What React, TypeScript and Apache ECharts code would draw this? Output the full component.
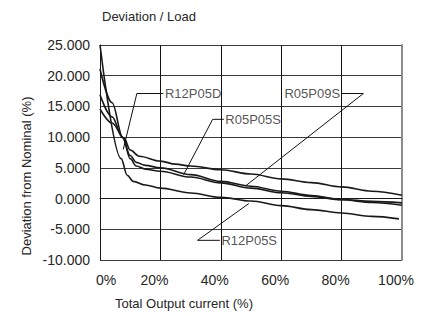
import React, { useEffect, useRef } from "react";
import * as echarts from "echarts";

const FONT = "'Liberation Sans', Arial, sans-serif";
const TXT = "#262626";

// X positions (% of total output current)
const xR12P05S = [0, 7, 9, 11, 15, 20, 30, 40, 50, 60, 70, 80, 90, 99];
const yR12P05S = [25, 6.5, 3.8, 2.8, 2.2, 1.7, 0.9, 0.2, -0.4, -1.15, -1.8, -2.35, -2.9, -3.3];

const xR12P05D = [0, 4, 8, 10, 13, 20, 25, 30, 40, 50, 60, 70, 80, 90, 100];
const yR12P05D = [14.6, 12.3, 9.8, 7.9, 6.9, 6.1, 5.6, 5.3, 4.7, 4.0, 3.2, 2.6, 1.9, 1.2, 0.55];

const xR05P05S = [0, 4, 7.5, 10, 12, 15, 20, 30, 40, 50, 60, 70, 80, 90, 100];
const yR05P05S = [16.9, 13.3, 9.9, 7.0, 5.9, 5.4, 5.0, 3.9, 2.8, 2.0, 1.2, 0.5, -0.15, -0.45, -0.7];

const xR05P09S = [0, 4, 7.5, 10, 12, 15, 20, 30, 40, 50, 60, 70, 80, 90, 100];
const yR05P09S = [21.1, 15.6, 10.0, 6.5, 5.3, 4.8, 4.45, 3.5, 2.55, 1.7, 0.95, 0.35, -0.2, -0.65, -1.1];

// Axis ticks
const xTicks = [0, 20, 40, 60, 80, 100];
const yMin = -10;
const yMax = 25;
const yStep = 5;

// Leader annotations (data coordinates): target on curve, elbow, text anchor
const leaderNames = ["R12P05D", "R05P05S", "R05P09S", "R12P05S"];
const leaderTargets = [[7.7, 8.0], [27.7, 3.9], [48.3, 2.1], [49.3, -0.8]];
const leaderElbows = [[12.2, 17.1], [37.3, 12.9], [87.2, 17.1], [32.3, -6.8]];
const leaderEnds = [[21, 17.1], [41, 12.9], [80, 17.1], [39.7, -6.8]];
const leaderSides = ["right", "right", "left", "right"];

const curveNames = ["R12P05S", "R12P05D", "R05P05S", "R05P09S"];
const curveX = [xR12P05S, xR12P05D, xR05P05S, xR05P09S];
const curveY = [yR12P05S, yR12P05D, yR05P05S, yR05P09S];

export default function App() {
  const ref = useRef<HTMLDivElement>(null);
  useEffect(() => {
    if (!ref.current) return;
    const chart = echarts.init(ref.current, undefined, { renderer: "svg" });

    const curveSeries = curveNames.map((n, i) => ({
      name: n,
      type: "line",
      data: curveX[i].map((x, j) => [x, curveY[i][j]]),
      smooth: 0.35,
      smoothMonotone: "x",
      symbol: "none",
      lineStyle: { color: "#1a1a1a", width: 1.6 },
      silent: true,
      z: 3,
    }));

    const leaderSeries = leaderNames.map((n, i) => ({
      name: "leader-" + n,
      type: "line",
      data: [leaderTargets[i], leaderElbows[i], leaderEnds[i]],
      symbol: "none",
      lineStyle: { color: "#111", width: 1 },
      silent: true,
      z: 4,
    }));

    const labelSeries = leaderNames.map((n, i) => ({
      name: "label-" + n,
      type: "scatter",
      data: [leaderEnds[i]],
      symbolSize: 1,
      itemStyle: { color: "rgba(0,0,0,0)" },
      silent: true,
      z: 5,
      label: {
        show: true,
        position: leaderSides[i],
        distance: 1,
        formatter: n,
        color: TXT,
        fontSize: 13,
        fontFamily: FONT,
      },
    }));

    chart.setOption({
      animation: false,
      backgroundColor: "#fff",
      grid: { left: 100, right: 28, top: 45, bottom: 56, containLabel: false },
      xAxis: {
        type: "value",
        min: xTicks[0],
        max: xTicks[xTicks.length - 1],
        interval: 20,
        axisLine: { show: true, lineStyle: { color: "#1a1a1a", width: 1 } },
        axisTick: { show: false },
        splitLine: { show: true, lineStyle: { color: "#111", width: 1 } },
        axisLabel: {
          margin: 13,
          color: TXT,
          fontSize: 14,
          fontFamily: FONT,
          formatter: (v: number) => (v === 0 ? "{a|0%}" : "{b|" + v + "%}"),
          rich: {
            a: { padding: [0, 0, 0, 12], fontSize: 14, fontFamily: FONT, color: TXT },
            b: { padding: [0, 12, 0, 0], fontSize: 14, fontFamily: FONT, color: TXT },
          },
        },
      },
      yAxis: [
        {
          type: "value",
          min: yMin,
          max: yMax,
          interval: yStep,
          axisLine: { show: true, lineStyle: { color: "#1a1a1a", width: 1 } },
          axisTick: { show: false },
          splitLine: { show: true, lineStyle: { color: "#3a3a3a", width: 1 } },
          axisLabel: {
            margin: 10,
            color: TXT,
            fontSize: 14,
            fontFamily: FONT,
            formatter: (v: number) => v.toFixed(3),
          },
        },
        {
          type: "value",
          min: yMin,
          max: yMax,
          interval: yStep,
          position: "right",
          axisLine: { show: true, lineStyle: { color: "#8c8c8c", width: 2 } },
          axisTick: { show: false },
          axisLabel: { show: false },
          splitLine: { show: false },
        },
      ],
      graphic: [
        {
          type: "text",
          x: 102,
          y: 16,
          style: {
            text: "Deviation / Load",
            fill: TXT,
            font: "13px " + FONT,
            align: "left",
            verticalAlign: "middle",
            textAlign: "left",
            textVerticalAlign: "middle",
          },
        },
        {
          type: "text",
          x: 184,
          y: 303,
          style: {
            text: "Total Output current (%)",
            fill: TXT,
            font: "13px " + FONT,
            align: "center",
            verticalAlign: "middle",
            textAlign: "center",
            textVerticalAlign: "middle",
          },
        },
        {
          type: "text",
          x: 26,
          y: 176,
          rotation: Math.PI / 2,
          style: {
            text: "Deviation from Nominal (%)",
            fill: TXT,
            font: "13px " + FONT,
            align: "center",
            verticalAlign: "middle",
            textAlign: "center",
            textVerticalAlign: "middle",
          },
        },
      ],
      series: [...curveSeries, ...leaderSeries, ...labelSeries],
    });
    return () => chart.dispose();
  }, []);
  return (
    <div
      ref={ref}
      style={{ position: "fixed", left: 0, top: 0, width: 430, height: 316, background: "#fff" }}
    />
  );
}
